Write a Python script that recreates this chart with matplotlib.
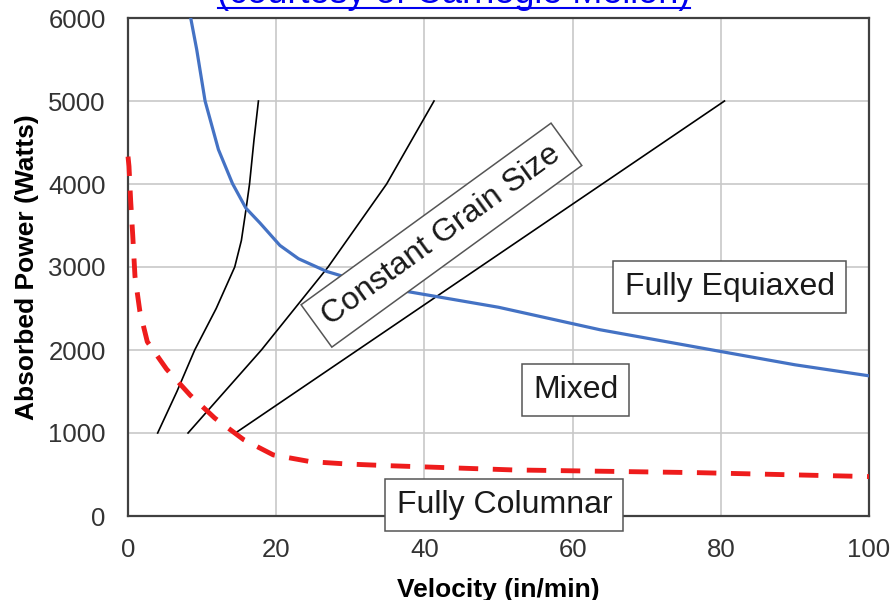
import matplotlib.pyplot as plt
from matplotlib.lines import Line2D

plt.rcParams['font.family'] = ['Liberation Sans', 'DejaVu Sans']

# boundary curves
blue_x = [8.46, 9.27, 10.4, 12.2, 14.1, 15.9, 17.8, 20.5, 23.0, 26.8, 31.0, 37.6, 50, 63.7, 80, 90, 100]
blue_y = [6000, 5620, 5000, 4415, 4005, 3710, 3531, 3260, 3100, 2947, 2835, 2706, 2515, 2244, 1982, 1822, 1689]

red_x = [0, 0.13, 0.36, 0.63, 0.94, 1.6, 2.6, 5.2, 8.4, 11.7, 15.6, 19.6, 24.6, 29.5, 34.9, 52, 77, 100]
red_y = [4330, 4214, 3792, 3390, 2887, 2465, 2100, 1770, 1455, 1180, 920, 736, 655, 627, 607, 555, 522, 475]

# constant grain size lines
grain1_x = [4.0, 6.6, 9.0, 11.9, 14.4, 15.3, 15.9, 16.4, 17.0, 17.6]
grain1_y = [1000, 1500, 2000, 2500, 3000, 3320, 3680, 4000, 4530, 5000]
grain2_x = [8.1, 18, 27, 34.9, 41.3]
grain2_y = [1000, 2000, 3000, 4000, 5000]
grain3_x = [14.5, 80.5]
grain3_y = [1000, 5000]

region_labels = ["Constant Grain Size", "Fully Equiaxed", "Mixed", "Fully Columnar"]
label_x = [42.3, 81.2, 60.4, 50.8]
label_y = [3384, 2762, 1520, 133]
label_rot = [36, 0, 0, 0]

fig = plt.figure(figsize=(8.94, 6), dpi=100)
ax = fig.add_axes([0.1432, 0.14, 0.8288, 0.83])

ax.plot(blue_x, blue_y, color='#4472C4', lw=2.3, zorder=3)
ax.plot(red_x, red_y, color='#EE1C1C', lw=3.5, dashes=(4, 3), zorder=3,
        clip_on=False)
for gx, gy in [(grain1_x, grain1_y), (grain2_x, grain2_y), (grain3_x, grain3_y)]:
    ax.plot(gx, gy, color='black', lw=1.2, zorder=2)

box = dict(boxstyle='square,pad=0.35', fc='white', ec='#555555', lw=1.1)
for t, x, y, r in zip(region_labels, label_x, label_y, label_rot):
    ax.text(x, y, t, fontsize=23, color='#1a1a1a', ha='center', va='center',
            rotation=r, rotation_mode='anchor', bbox=box, zorder=5,
            clip_on=False)

ax.set_xlim(0, 100)
ax.set_ylim(0, 6000)
ax.set_xticks(range(0, 101, 20))
ax.set_yticks(range(0, 6001, 1000))
ax.tick_params(length=0, labelsize=18.5, labelcolor='#333333', pad=16)
ax.grid(True, color='#C8C8C8', lw=1.2)
ax.set_axisbelow(True)
for s in ax.spines.values():
    s.set_color('#404040')
    s.set_linewidth(1.6)

ax.set_xlabel("Velocity (in/min)", fontsize=19, fontweight='bold', labelpad=11)
ax.set_ylabel("Absorbed Power (Watts)", fontsize=19, fontweight='bold', labelpad=7)

# cut-off caption link at the top
fig.text(0.507, 1 - 3 / 600, "(courtesy of Carnegie Mellon)", fontsize=26,
         color='#0000EE', ha='center', va='baseline')
fig.add_artist(Line2D([218 / 894, 690 / 894], [1 - 7.5 / 600] * 2,
                      color='#0000EE', lw=1.5))

fig.savefig("out.png", dpi=100)
